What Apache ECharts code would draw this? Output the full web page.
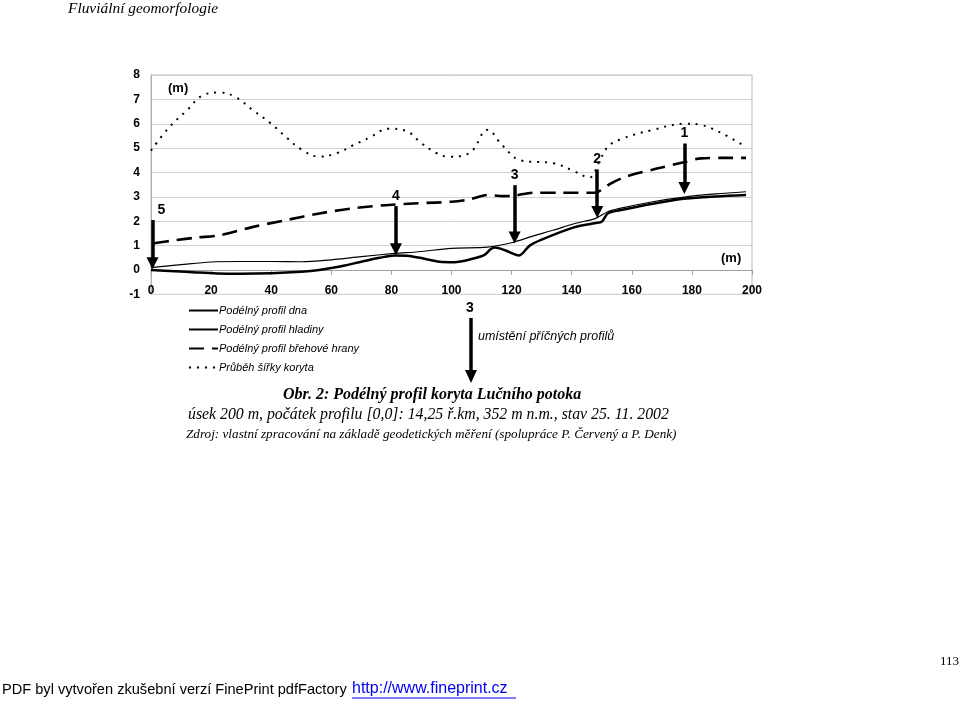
<!DOCTYPE html>
<html>
<head>
<meta charset="utf-8">
<script src="https://cdn.jsdelivr.net/npm/echarts@6/dist/echarts.min.js"></script>
<style>
  html, body { margin: 0; padding: 0; background: #fff; }
  #main { width: 960px; height: 703px; }
</style>
</head>
<body>
<div id="main"></div>
<script>
// podélný profil dna
var bedX = [0, 8, 15, 22, 30, 40, 50, 56, 62, 70, 76, 81, 86, 91, 96, 101, 107, 111, 113, 114.5, 118, 122.5, 126, 130, 141, 148, 150, 152, 156, 167, 178, 188, 198];
var bedY = [0, -0.05, -0.1, -0.14, -0.15, -0.13, -0.07, 0, 0.12, 0.34, 0.5, 0.6, 0.58, 0.46, 0.34, 0.32, 0.46, 0.62, 0.85, 0.92, 0.8, 0.6, 1.0, 1.25, 1.76, 1.93, 1.98, 2.32, 2.45, 2.72, 2.93, 3.02, 3.08];
// podélný profil hladiny
var waterX = [0, 10, 20, 30, 40, 50, 60, 70, 81, 89, 100, 112, 120, 127, 134, 141, 148, 152, 156, 167, 178, 188, 198];
var waterY = [0.1, 0.22, 0.33, 0.35, 0.35, 0.34, 0.42, 0.55, 0.68, 0.75, 0.89, 0.94, 1.12, 1.39, 1.64, 1.91, 2.12, 2.39, 2.53, 2.8, 3.0, 3.12, 3.21];
// podélný profil břehové hrany
var bankX = [1, 8, 15, 23, 34, 45, 56, 67, 78, 89, 100, 106, 112, 117, 121, 127, 136, 148, 150, 153, 158, 168, 178, 183, 190, 198];
var bankY = [1.1, 1.22, 1.33, 1.43, 1.77, 2.05, 2.32, 2.53, 2.66, 2.74, 2.8, 2.9, 3.08, 3.03, 3.05, 3.17, 3.17, 3.17, 3.3, 3.55, 3.83, 4.15, 4.44, 4.58, 4.6, 4.6];
// průběh šířky koryta
var widthX = [0, 6, 12, 17, 23, 28, 34, 40, 45, 50, 56, 62, 67, 73, 79, 85, 90, 95, 99, 106, 112, 117, 123, 134, 140, 146, 149, 152, 156, 167, 178, 183, 189, 197];
var widthY = [4.9, 5.85, 6.55, 7.15, 7.28, 7.1, 6.55, 6.0, 5.45, 4.95, 4.65, 4.8, 5.1, 5.45, 5.8, 5.7, 5.2, 4.8, 4.65, 4.8, 5.75, 5.1, 4.5, 4.38, 4.1, 3.8, 4.4, 5.05, 5.35, 5.75, 6.0, 5.95, 5.67, 5.12];
// umístění příčných profilů
var profNames = ['5', '4', '3', '2', '1'];
var profX = [0.5, 81.5, 121, 148.5, 177.5];
var profTop = [2.05, 2.62, 3.48, 4.13, 5.19];
var profTip = [0.28, 0.85, 1.33, 2.38, 3.36];

var seriesNames = ['Podélný profil dna', 'Podélný profil hladiny', 'Podélný profil břehové hrany', 'Průběh šířky koryta'];

function pairs(xs, ys) {
  return xs.map(function (x, i) { return [x, ys[i]]; });
}

var chart = echarts.init(document.getElementById('main'));
var serif = '"Liberation Serif", "Times New Roman", serif';
var sans = '"Liberation Sans", Arial, sans-serif';

var option = {
  animation: false,
  backgroundColor: '#fff',
  textStyle: { fontFamily: sans },
  grid: {
    left: 151, top: 75, right: 208, bottom: 408.6,
    show: true, borderColor: '#b8b8b8', borderWidth: 1, backgroundColor: 'transparent'
  },
  xAxis: {
    type: 'value', min: 0, max: 200, interval: 20,
    axisLine: { onZero: true, lineStyle: { color: '#a0a0a0', width: 1 } },
    axisTick: { show: true, length: 5, lineStyle: { color: '#a0a0a0' } },
    axisLabel: { inside: true, margin: -2, color: '#000', fontWeight: 'bold', fontSize: 12, fontFamily: sans },
    splitLine: { show: false }
  },
  yAxis: {
    type: 'value', min: -1, max: 8, interval: 1,
    axisLine: { show: true, lineStyle: { color: '#b0b0b0' } },
    axisTick: { show: false },
    axisLabel: { margin: 11, color: '#000', fontWeight: 'bold', fontSize: 12, fontFamily: sans },
    splitLine: { lineStyle: { color: '#d0d0d0', width: 1 } }
  },
  legend: {
    orient: 'vertical', left: 183, top: 300, itemGap: 8,
    itemWidth: 29, itemHeight: 12,
    data: seriesNames,
    itemStyle: { color: 'transparent', borderWidth: 0, opacity: 0 },
    textStyle: { fontStyle: 'italic', fontSize: 11, color: '#000', fontFamily: sans, padding: [0, 0, 0, -4] }
  },
  series: [
    {
      name: seriesNames[0], type: 'line', data: pairs(bedX, bedY),
      smooth: 0.3, showSymbol: false, symbol: 'none',
      lineStyle: { color: '#000', width: 2.5 }, itemStyle: { color: '#000' }, z: 4
    },
    {
      name: seriesNames[1], type: 'line', data: pairs(waterX, waterY),
      smooth: 0.3, showSymbol: false, symbol: 'none',
      lineStyle: { color: '#000', width: 1.2 }, itemStyle: { color: '#000' }, z: 4
    },
    {
      name: seriesNames[2], type: 'line', data: pairs(bankX, bankY),
      smooth: 0.3, showSymbol: false, symbol: 'none',
      lineStyle: { color: '#000', width: 2.6, type: [15, 8] }, itemStyle: { color: '#000' }, z: 3
    },
    {
      name: seriesNames[3], type: 'line', data: pairs(widthX, widthY),
      smooth: 0.4, showSymbol: false, symbol: 'none',
      lineStyle: { color: '#000', width: 2, type: [2, 6] }, itemStyle: { color: '#000' }, z: 3
    },
    {
      name: 'profily', type: 'line', data: [], z: 6,
      markLine: {
        silent: true,
        symbol: ['none', 'triangle'],
        symbolSize: 12,
        lineStyle: { color: '#000', width: 3.5, type: 'solid' },
        label: { show: true, position: 'start', distance: 3, formatter: '{b}', color: '#000', fontWeight: 'bold', fontSize: 14, fontFamily: sans },
        data: profNames.map(function (n, i) {
          var start = { name: n, coord: [profX[i], profTop[i]] };
          if (i === 0) start.label = { padding: [0, 0, 0, 18] };
          return [start, { coord: [profX[i], profTip[i]] }];
        })
      }
    }
  ],
  graphic: [
    { type: 'text', left: 168, top: 82, style: { text: '(m)', font: 'bold 13px ' + sans, fill: '#000' } },
    { type: 'text', left: 721, top: 252, style: { text: '(m)', font: 'bold 13px ' + sans, fill: '#000' } },
    // legenda – šipka příčných profilů
    { type: 'text', left: 466, top: 301, style: { text: '3', font: 'bold 14px ' + sans, fill: '#000' } },
    { type: 'line', shape: { x1: 471, y1: 318, x2: 471, y2: 372 }, style: { stroke: '#000', lineWidth: 3.5 } },
    { type: 'polygon', shape: { points: [[465, 370], [477, 370], [471, 383]] }, style: { fill: '#000' } },
    { type: 'text', left: 478, top: 330, style: { text: 'umístění příčných profilů', font: 'italic 12.5px ' + sans, fill: '#000' } },
    // titulky
    { type: 'text', left: 68, top: 1, style: { text: 'Fluviální geomorfologie', font: 'italic 15.4px ' + serif, fill: '#000' } },
    { type: 'text', left: 283, top: 387, style: { text: 'Obr. 2: Podélný profil koryta Lučního potoka', font: 'italic bold 16px ' + serif, fill: '#000' } },
    { type: 'text', left: 188, top: 407, style: { text: 'úsek 200 m, počátek profilu [0,0]: 14,25 ř.km, 352 m n.m., stav 25. 11. 2002', font: 'italic 15.8px ' + serif, fill: '#000' } },
    { type: 'text', left: 186, top: 428, style: { text: 'Zdroj: vlastní zpracování na základě geodetických měření (spolupráce P. Červený a P. Denk)', font: 'italic 13.2px ' + serif, fill: '#000' } },
    { type: 'text', left: 940, top: 655, style: { text: '113', font: '13px ' + serif, fill: '#000' } },
    { type: 'text', left: 2, top: 682, style: { text: 'PDF byl vytvořen zkušební verzí FinePrint pdfFactory', font: '14.6px "Liberation Sans Narrow", ' + sans, fill: '#000' } },
    { type: 'text', left: 352, top: 681, style: { text: 'http://www.fineprint.cz', font: '16px "Liberation Sans Narrow", ' + sans, fill: '#0000ee' } },
    { type: 'line', shape: { x1: 352, y1: 698, x2: 516, y2: 698 }, style: { stroke: '#0000ee', lineWidth: 1 } }
  ]
};
chart.setOption(option);
</script>
</body>
</html>
